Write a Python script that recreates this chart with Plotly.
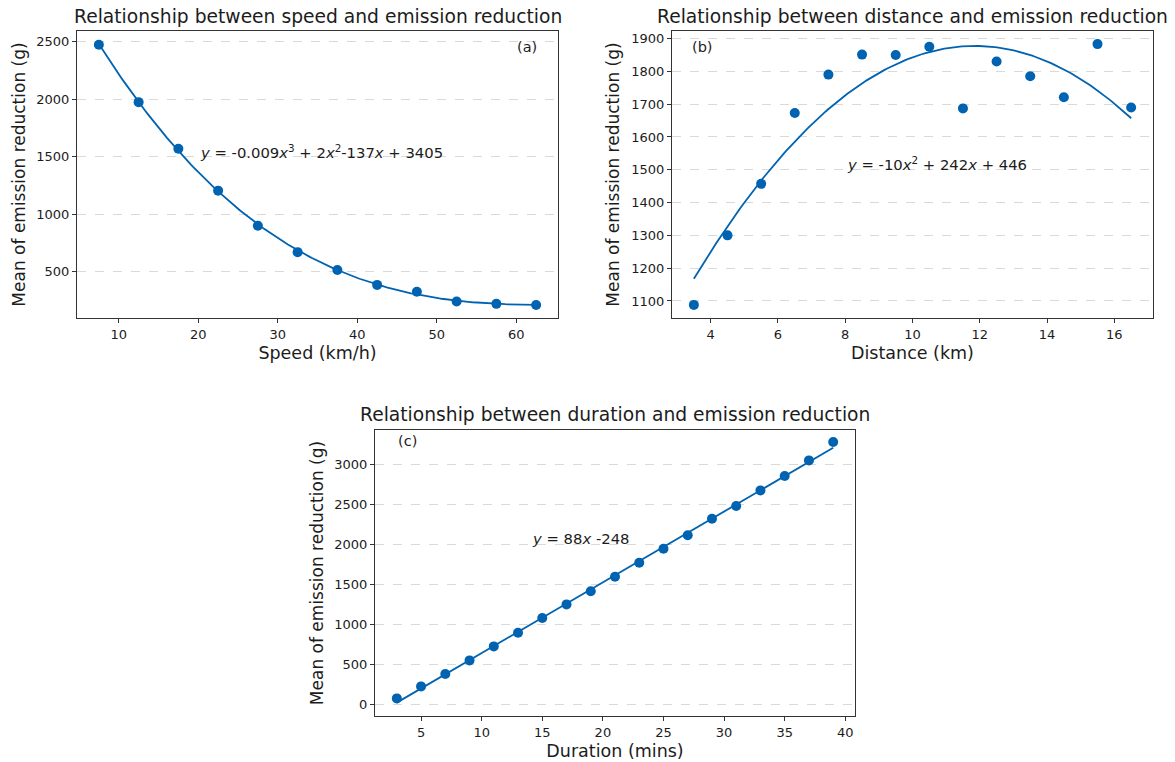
import numpy as np
import plotly.graph_objects as go

# ---- data ----
speed_kmh = [7.5, 12.5, 17.5, 22.5, 27.5, 32.5, 37.5, 42.5, 47.5, 52.5, 57.5, 62.5]
speed_emission = [2475, 1975, 1570, 1205, 900, 670, 515, 385, 325, 240, 220, 210]

distance_km = [3.5, 4.5, 5.5, 6.5, 7.5, 8.5, 9.5, 10.5, 11.5, 12.5, 13.5, 14.5, 15.5, 16.5]
distance_emission = [1088, 1300, 1457, 1673, 1790, 1851, 1850, 1875, 1687, 1830, 1785, 1721, 1883, 1690]

duration_min = [3, 5, 7, 9, 11, 13, 15, 17, 19, 21, 23, 25, 27, 29, 31, 33, 35, 37, 39]
duration_emission = [70, 220, 375, 545, 720, 890, 1075, 1245, 1410, 1590, 1765, 1940,
                     2110, 2315, 2475, 2670, 2850, 3045, 3275]

BLUE = "#0063b1"
FONT = "DejaVu Sans"
TEXT = "#1c1c1c"
W, H = 1175, 762


def fit_curve(x, y, deg):
    """Polynomial trend line evaluated across the data range."""
    coef = np.polyfit(x, y, deg)
    xs = np.linspace(min(x), max(x), 200)
    return xs, np.polyval(coef, xs)


def px_dom(a, b, total):
    return [a / total, b / total]


def py_dom(top, bottom):
    return [1 - bottom / H, 1 - top / H]


fig = go.Figure()

panels = [
    dict(x=speed_kmh, y=speed_emission, deg=3, xa="x", ya="y"),
    dict(x=distance_km, y=distance_emission, deg=2, xa="x2", ya="y2"),
    dict(x=duration_min, y=duration_emission, deg=1, xa="x3", ya="y3"),
]
for p in panels:
    xs, ys = fit_curve(p["x"], p["y"], p["deg"])
    fig.add_trace(go.Scatter(x=xs, y=ys, mode="lines", line=dict(color=BLUE, width=1.8),
                             xaxis=p["xa"], yaxis=p["ya"], showlegend=False, hoverinfo="skip"))
    fig.add_trace(go.Scatter(x=p["x"], y=p["y"], mode="markers",
                             marker=dict(color=BLUE, size=10),
                             xaxis=p["xa"], yaxis=p["ya"], showlegend=False))

axis_common = dict(showline=True, linecolor="#333333", linewidth=1.1, mirror=True,
                   ticks="outside", ticklen=4, tickcolor="#333333", tickwidth=1,
                   tickfont=dict(family=FONT, size=13, color=TEXT),
                   zeroline=False)
xgrid = dict(showgrid=False)
ygrid = dict(showgrid=True, gridcolor="#d9d9d9", gridwidth=0.8, griddash="dash")
xtitle_font = dict(family=FONT, size=17.5, color=TEXT)
ytitle_font = dict(family=FONT, size=17, color=TEXT)
ylabel = "Mean of emission reduction (g)"

fig.update_layout(
    width=W, height=H,
    margin=dict(l=0, r=0, t=0, b=0),
    paper_bgcolor="white", plot_bgcolor="white",
    font=dict(family=FONT, color=TEXT),
    xaxis=dict(domain=px_dom(77, 558, W), range=[4.75, 65.25], tickvals=[10, 20, 30, 40, 50, 60],
               anchor="y", title=dict(text="Speed (km/h)", font=xtitle_font, standoff=6),
               **axis_common, **xgrid),
    yaxis=dict(domain=py_dom(31, 318), range=[97, 2594], tickvals=[500, 1000, 1500, 2000, 2500],
               anchor="x", title=dict(text=ylabel, font=ytitle_font, standoff=6),
               **axis_common, **ygrid),
    xaxis2=dict(domain=px_dom(672, 1153, W), range=[2.85, 17.15], tickvals=[4, 6, 8, 10, 12, 14, 16],
                anchor="y2", title=dict(text="Distance (km)", font=xtitle_font, standoff=6),
                **axis_common, **xgrid),
    yaxis2=dict(domain=py_dom(31, 318), range=[1048, 1923],
                tickvals=[1100, 1200, 1300, 1400, 1500, 1600, 1700, 1800, 1900],
                anchor="x2", title=dict(text=ylabel, font=ytitle_font, standoff=7),
                **axis_common, **ygrid),
    xaxis3=dict(domain=px_dom(375, 855, W), range=[1.2, 40.8], tickvals=[5, 10, 15, 20, 25, 30, 35, 40],
                anchor="y3", title=dict(text="Duration (mins)", font=xtitle_font, standoff=6),
                **axis_common, **xgrid),
    yaxis3=dict(domain=py_dom(430, 716), range=[-150, 3425],
                tickvals=[0, 500, 1000, 1500, 2000, 2500, 3000],
                anchor="x3", title=dict(text=ylabel, font=ytitle_font, standoff=6),
                **axis_common, **ygrid),
)

# subplot titles
titles = [
    ("Relationship between speed and emission reduction", (77 + 558) / 2, 16),
    ("Relationship between distance and emission reduction", (672 + 1153) / 2, 16),
    ("Relationship between duration and emission reduction", (375 + 855) / 2, 414),
]
for text, cx, cy in titles:
    fig.add_annotation(text=text, xref="paper", yref="paper", x=cx / W, y=1 - cy / H,
                       xanchor="center", yanchor="middle", showarrow=False,
                       font=dict(family=FONT, size=18.7, color=TEXT))

# panel tags
tags = [("(a)", "x domain", "y domain", 0.936, 0.944),
        ("(b)", "x2 domain", "y2 domain", 0.064, 0.944),
        ("(c)", "x3 domain", "y3 domain", 0.067, 0.962)]
for text, xr, yr, x, y in tags:
    fig.add_annotation(text=text, xref=xr, yref=yr, x=x, y=y, xanchor="center", yanchor="middle",
                       showarrow=False, font=dict(family=FONT, size=14.5, color=TEXT))

# fitted equations
eqs = [
    ("<i>y</i> = -0.009<i>x</i><sup>3</sup> + 2<i>x</i><sup>2</sup>-137<i>x</i> + 3405", "x", "y", 20, 1545),
    ("<i>y</i> = -10<i>x</i><sup>2</sup> + 242<i>x</i> + 446", "x2", "y2", 8, 1518),
    ("<i>y</i> = 88<i>x</i> -248", "x3", "y3", 14, 2070),
]
for text, xr, yr, x, y in eqs:
    fig.add_annotation(text=text, xref=xr, yref=yr, x=x, y=y, xanchor="left", yanchor="middle",
                       showarrow=False, font=dict(family=FONT, size=14.8, color=TEXT))

fig.write_html("out.html")
